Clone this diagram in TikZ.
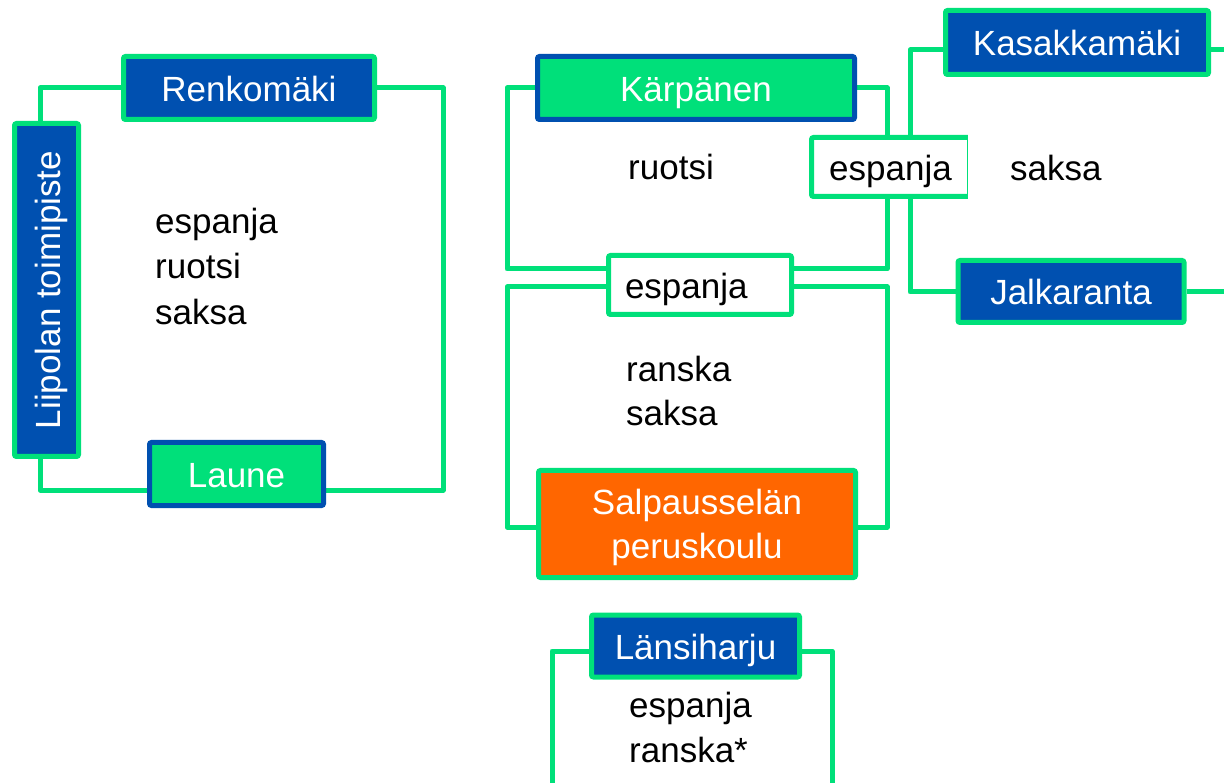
\documentclass[tikz,border=0pt]{standalone}
\usepackage{fontspec}
\setmainfont{Liberation Sans}
\usetikzlibrary{backgrounds}
\definecolor{lgreen}{RGB}{0,224,122}
\definecolor{dblue}{RGB}{0,80,176}
\definecolor{orng}{RGB}{255,102,0}
\begin{document}
\begin{tikzpicture}[x=1pt,y=-1pt,
  every node/.style={font=\fontsize{35}{44}\selectfont},
  conn/.style={draw=lgreen, line width=5pt, line join=round},
  boxbase/.style={line width=5pt, inner sep=0pt, rounded corners=2pt},
  oneline/.style={text height=27pt, text depth=0pt},
  bluebox/.style={boxbase, oneline, draw=lgreen, fill=dblue, text=white},
  greenbox/.style={boxbase, oneline, draw=dblue, fill=lgreen, text=white},
  orangebox/.style={boxbase, draw=lgreen, fill=orng, text=white},
  whitebox/.style={boxbase, oneline, draw=lgreen, fill=white, text=black},
  lbl/.style={anchor=base west, inner sep=0pt, text=black}
]
\useasboundingbox (0,0) rectangle (1224,783);

% left group
\node[bluebox, minimum width=251pt, minimum height=63pt] (ren) at (249,88) {Renkomäki};
\node[bluebox, rotate=90, minimum width=333pt, minimum height=64pt] (lii) at (46.5,290) {Liipolan toimipiste};
\node[greenbox, minimum width=174pt, minimum height=63pt] (lau) at (236.5,474) {Laune};
\node[lbl] (t1) at (155,234) {espanja};
\node[lbl] (t2) at (155,279) {ruotsi};
\node[lbl] (t3) at (155,325) {saksa};

% middle group
\node[greenbox, minimum width=317pt, minimum height=63pt] (kar) at (696,88) {Kärpänen};
\node[whitebox, minimum width=183pt, minimum height=59pt, align=left, text width=150pt, inner xsep=16.5pt] (esp1) at (700,285) {espanja};
\node[whitebox, minimum width=158pt, minimum height=59pt] (esp2) at (890.5,167) {espanja};
\node[fill=white, anchor=west, inner xsep=42pt, inner ysep=22pt, oneline, text=black] (saksa) at (968,167) {saksa};
\node[lbl] (t4) at (628,180) {ruotsi};
\node[lbl] (t5) at (626,382) {ranska};
\node[lbl] (t6) at (626,426) {saksa};
\node[orangebox, align=center, minimum width=317pt, minimum height=107pt] (salp) at (697,524) {\rule{0pt}{33pt}Salpausselän\\peruskoulu};

% right group
\node[bluebox, minimum width=263pt, minimum height=64pt] (kas) at (1077,42.5) {Kasakkamäki};
\node[bluebox, minimum width=226pt, minimum height=62pt] (jal) at (1071,291.5) {Jalkaranta};

% bottom group
\node[bluebox, minimum width=208pt, minimum height=62pt] (lan) at (695.5,646) {Länsiharju};
\node[lbl] (t7) at (629,717) {espanja};
\node[lbl] (t8) at (629,762) {ranska*};

\coordinate (a1) at (40,88);
\coordinate (a2) at (443,490);
\coordinate (b1) at (507,88);
\coordinate (b2) at (887,269);
\coordinate (c1) at (507,287);
\coordinate (c2) at (887,527);
\coordinate (d1) at (910,50);
\coordinate (d2) at (910,292);
\coordinate (e1) at (1232,50);
\coordinate (e2) at (1232,292);
\coordinate (f1) at (552,651);
\coordinate (f2) at (832,651);
\coordinate (f3) at (552,792);
\coordinate (f4) at (832,792);

\begin{scope}[on background layer]
\draw[conn] (ren.west) -- (a1) -- (a1 |- lii.east);
\draw[conn] (a1 |- lii.west) -- (a1 |- a2) -- (lau.west |- a2);
\draw[conn] (lau.east |- a2) -- (a2) -- (a2 |- ren.east) -- (ren.east);

\draw[conn] (kar.west) -- (b1) -- (b1 |- b2) -- (esp1.west |- b2);
\draw[conn] (esp1.east |- b2) -- (b2) -- (b2 |- kar.east) -- (kar.east);

\draw[conn] (esp1.west |- c1) -- (c1) -- (c1 |- c2) -- (salp.west |- c2);
\draw[conn] (salp.east |- c2) -- (c2) -- (c2 |- c1) -- (esp1.east |- c1);

\draw[conn] (kas.west |- d1) -- (d1) -- (d2) -- (jal.west |- d2);
\draw[conn] (kas.east |- d1) -- (e1);
\draw[conn] (jal.east |- d2) -- (e2);

\draw[conn] (lan.west |- f1) -- (f1) -- (f3);
\draw[conn] (lan.east |- f2) -- (f2) -- (f4);
\end{scope}
\end{tikzpicture}
\end{document}
